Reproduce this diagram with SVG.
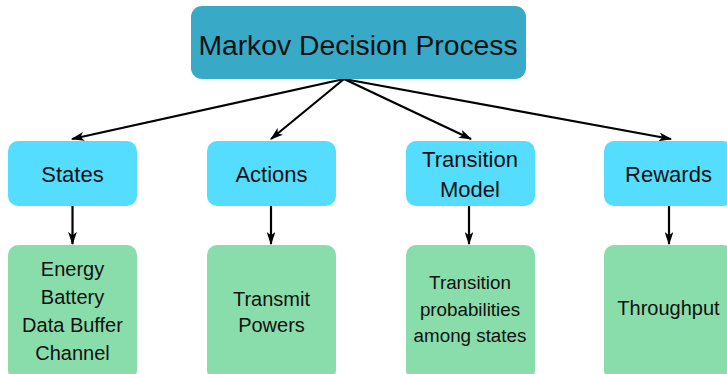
<svg xmlns="http://www.w3.org/2000/svg" width="727" height="374" viewBox="0 0 727 374">
  <style>
    .root { fill: #38aac8; }
    .cat { fill: #55ddff; }
    .leaf { fill: #88ddaa; }
    text { font-family: "Liberation Sans", Arial, sans-serif; fill: #111; text-anchor: middle; }
    .t-root { font-size: 28.3px; }
    .t-cat { font-size: 22px; }
    .t-leaf { font-size: 20px; }
    .edge { stroke: #000; stroke-width: 2.2; fill: none; marker-end: url(#arrow); }
  </style>
  <defs>
    <marker id="arrow" viewBox="0 0 12 8" refX="11" refY="4" markerWidth="6" markerHeight="4" markerUnits="strokeWidth" orient="auto">
      <path d="M0,0 L12,4 L0,8 L3,4 z" fill="#000"/>
    </marker>
  </defs>

  <rect x="0" y="0" width="727" height="374" fill="#fff"/>

  <g id="connectors">
    <line class="edge" x1="344" y1="79" x2="72" y2="139"/>
    <line class="edge" x1="344" y1="79" x2="271" y2="139"/>
    <line class="edge" x1="344" y1="79" x2="471" y2="139"/>
    <line class="edge" x1="344" y1="79" x2="671" y2="139"/>
    <line class="edge" x1="72.5" y1="206" x2="72.5" y2="244"/>
    <line class="edge" x1="271" y1="206" x2="271" y2="244"/>
    <line class="edge" x1="469" y1="206" x2="469" y2="244"/>
    <line class="edge" x1="669" y1="206" x2="669" y2="244"/>
  </g>

  <g id="mdp">
    <rect class="root" x="191" y="6" width="335" height="73" rx="11"/>
    <text class="t-root" x="358" y="55">Markov Decision Process</text>
  </g>

  <g id="states">
    <rect class="cat" x="8" y="141" width="129" height="65" rx="10"/>
    <text class="t-cat" x="72.5" y="182">States</text>
  </g>
  <g id="actions">
    <rect class="cat" x="207" y="141" width="129" height="65" rx="10"/>
    <text class="t-cat" x="271.5" y="182">Actions</text>
  </g>
  <g id="transition-model">
    <rect class="cat" x="406" y="141" width="129" height="65" rx="10"/>
    <text class="t-cat" x="470" y="167">Transition</text>
    <text class="t-cat" x="470" y="197">Model</text>
  </g>
  <g id="rewards">
    <rect class="cat" x="604" y="141" width="129" height="65" rx="10"/>
    <text class="t-cat" x="668.5" y="182">Rewards</text>
  </g>

  <g id="states-detail">
    <rect class="leaf" x="8" y="245" width="129" height="135" rx="10"/>
    <text class="t-leaf" x="72.5" y="276">Energy</text>
    <text class="t-leaf" x="72.5" y="304">Battery</text>
    <text class="t-leaf" x="72.5" y="332">Data Buffer</text>
    <text class="t-leaf" x="72.5" y="360">Channel</text>
  </g>
  <g id="actions-detail">
    <rect class="leaf" x="207" y="245" width="129" height="135" rx="10"/>
    <text class="t-leaf" x="271.5" y="306">Transmit</text>
    <text class="t-leaf" x="271.5" y="332">Powers</text>
  </g>
  <g id="transition-detail">
    <rect class="leaf" x="406" y="245" width="129" height="135" rx="10"/>
    <text class="t-leaf" x="470" y="289" style="font-size:18.8px">Transition</text>
    <text class="t-leaf" x="470" y="316" style="font-size:18.8px">probabilities</text>
    <text class="t-leaf" x="470" y="342" style="font-size:18.8px">among states</text>
  </g>
  <g id="rewards-detail">
    <rect class="leaf" x="604" y="245" width="129" height="135" rx="10"/>
    <text class="t-leaf" x="668.5" y="315">Throughput</text>
  </g>
</svg>
